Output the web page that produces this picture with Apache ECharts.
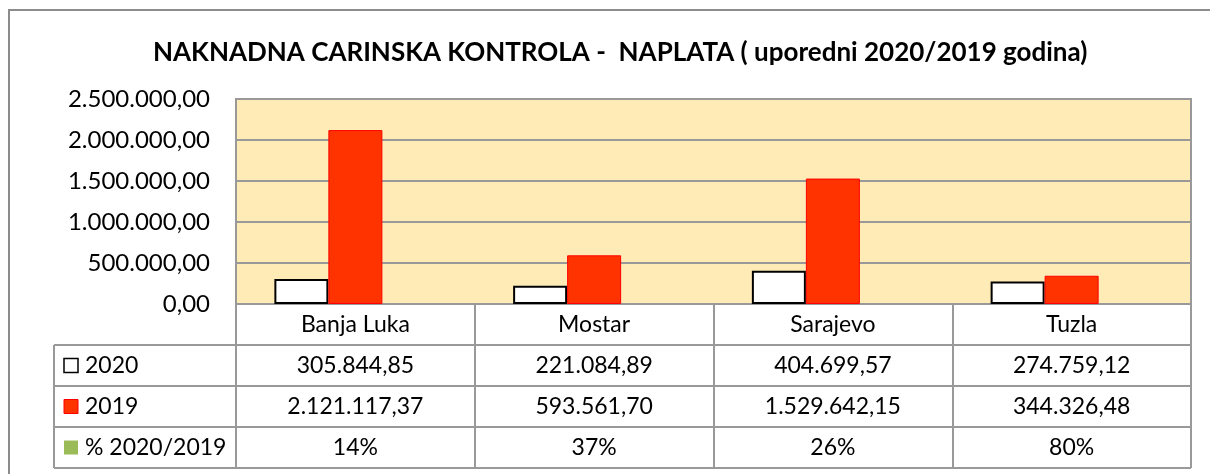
<!DOCTYPE html>
<html>
<head>
<meta charset="utf-8">
<script src="https://cdn.jsdelivr.net/npm/echarts@6/dist/echarts.min.js"></script>
<style>
  html, body { margin: 0; padding: 0; background: #fff; }
  #chart { width: 1210px; height: 474px; }
</style>
</head>
<body>
<div id="chart"></div>
<script>
const cities = ['Banja Luka', 'Mostar', 'Sarajevo', 'Tuzla']
const values2020 = [305844.85, 221084.89, 404699.57, 274759.12]
const values2019 = [2121117.37, 593561.70, 1529642.15, 344326.48]
const ratios = [0.14, 0.37, 0.26, 0.80]
const ratioLabels = ['14%', '37%', '26%', '80%']
const rowNames = ['2020', '2019', '% 2020/2019']

const FONT = 'Lato, "Noto Sans", sans-serif'
const GRID = { left: 236, right: 19, top: 99, bottom: 170 }
const ROW_H = 41
const TABLE_LEFT = 54
const LINE = '#999999'

// 1.234.567,89 style
const fmt = (v) => {
  const [i, d] = v.toFixed(2).split('.')
  return i.replace(/\B(?=(\d{3})+(?!\d))/g, '.') + ',' + d
}

const chart = echarts.init(document.getElementById('chart'))

const option = {
  animation: false,
  title: {
    text: 'NAKNADNA CARINSKA KONTROLA -  NAPLATA ( uporedni 2020/2019 godina)',
    left: 148,
    top: 35,
    textStyle: { fontFamily: FONT, fontWeight: 'bold', fontSize: 26, color: '#000' },
  },
  grid: {
    left: GRID.left,
    right: GRID.right,
    top: GRID.top,
    bottom: GRID.bottom,
    show: true,
    backgroundColor: '#FEEBB5',
    borderColor: LINE,
    borderWidth: 2,
  },
  xAxis: {
    type: 'category',
    data: cities,
    axisLine: { lineStyle: { color: LINE, width: 2 } },
    axisTick: { show: true, length: ROW_H * 4, lineStyle: { color: LINE, width: 2 } },
    axisLabel: { fontFamily: FONT, fontSize: 23, color: '#000', margin: 9 },
  },
  yAxis: {
    type: 'value',
    min: 0,
    max: 2500000,
    interval: 500000,
    axisLine: { show: false },
    axisTick: { show: false },
    splitLine: { lineStyle: { color: LINE, width: 2 } },
    axisLabel: {
      fontFamily: FONT, fontSize: 24, color: '#000', margin: 26,
      formatter: (v) => fmt(v),
    },
  },
  series: [
    {
      name: '2020',
      type: 'bar',
      data: values2020,
      barWidth: 54,
      barGap: '0%',
      itemStyle: { color: '#FFFFFF', borderColor: '#000', borderWidth: 2 },
    },
    {
      name: '2019',
      type: 'bar',
      data: values2019,
      barWidth: 54,
      itemStyle: { color: '#FF3300', borderColor: '#FF0000', borderWidth: 1 },
    },
    {
      // ratio series shares the axis, so its bars are invisibly small
      name: '% 2020/2019',
      type: 'bar',
      data: ratios,
      barWidth: 54,
      itemStyle: { color: '#9BBB59' },
    },
  ],
}

chart.setOption(option)

const drawTable = () => {
  const plotBottom = 474 - GRID.bottom
  const right = 1210 - GRID.right
  const g = []
  // outer chart frame
  g.push({ type: 'rect', shape: { x: 9, y: 10, width: 1220, height: 480 },
    style: { fill: null, stroke: '#8c8c8c', lineWidth: 2 }, silent: true })
  // row lines
  for (let r = 1; r <= 4; r++) {
    const y = plotBottom + ROW_H * r
    g.push({ type: 'line', shape: { x1: TABLE_LEFT, y1: y, x2: right, y2: y },
      style: { stroke: LINE, lineWidth: 2 } })
  }
  g.push({ type: 'line', shape: { x1: TABLE_LEFT, y1: plotBottom + ROW_H, x2: TABLE_LEFT, y2: plotBottom + ROW_H * 4 },
    style: { stroke: LINE, lineWidth: 2 } })

  const rows = [values2020.map(fmt), values2019.map(fmt), ratioLabels]
  const icons = [
    { fill: '#FFFFFF', stroke: '#000', lineWidth: 1.5 },
    { fill: '#FF3300', stroke: '#FF0000', lineWidth: 1 },
    { fill: '#9BBB59', stroke: null, lineWidth: 0 },
  ]
  rows.forEach((row, r) => {
    const cy = plotBottom + ROW_H * (r + 1) + ROW_H / 2
    g.push({ type: 'rect', shape: { x: 64, y: cy - 7, width: 14, height: 14 }, style: icons[r] })
    g.push({ type: 'text', x: 85, y: cy, style: {
      text: rowNames[r], font: '23px ' + FONT, fill: '#000', verticalAlign: 'middle', align: 'left' } })
    row.forEach((txt, c) => {
      const cx = chart.convertToPixel({ xAxisIndex: 0 }, cities[c])
      g.push({ type: 'text', x: cx, y: cy, style: {
        text: txt, font: '23px ' + FONT, fill: '#000', verticalAlign: 'middle', align: 'center' } })
    })
  })
  chart.setOption({ graphic: g })
}
drawTable()
</script>
</body>
</html>
